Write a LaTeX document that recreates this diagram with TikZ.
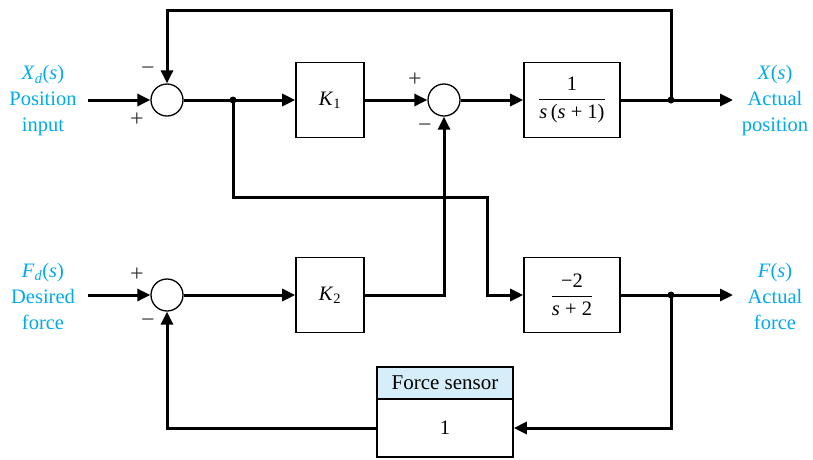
\documentclass[tikz,border=0pt]{standalone}
\usepackage{amsmath}
\usepackage{fontspec}
\setmainfont{Liberation Serif}
\usetikzlibrary{arrows.meta}
\definecolor{lblcyan}{RGB}{0,170,235}
\definecolor{hdrfill}{RGB}{214,238,250}
\newcommand{\vi}[1]{\textit{#1}}
\begin{document}
\begin{tikzpicture}[x=1pt,y=-1pt,
  font=\fontsize{20.5}{26}\selectfont,
  sig/.style={line width=3pt,-{Triangle[length=13pt,width=12pt]}},
  sumj/.style={circle,draw,line width=1.3pt,minimum size=32pt,inner sep=0pt},
  blk/.style={draw,line width=1.6pt,rectangle,inner sep=0pt},
  dotj/.style={circle,fill,inner sep=0pt,minimum size=7pt},
  lbl/.style={text=lblcyan,align=center},
  sgn/.style={font=\fontsize{24}{26}\selectfont,text=black!80}
]
\useasboundingbox (0,0) rectangle (813,459);
% summing junctions
\node[sumj] (s1) at (167,100) {};
\node[sumj] (s2) at (444,100) {};
\node[sumj] (s3) at (167,295) {};
% blocks
\node[blk,minimum width=68pt,minimum height=75pt] (k1) at (330,100) {\vi{K}\textsubscript{1}};
\node[blk,minimum width=96pt,minimum height=75pt] (g1) at (572,100) {$\dfrac{\text{1}}{\text{\vi{s}\,(\vi{s} + 1)}}$};
\node[blk,minimum width=68pt,minimum height=75pt] (k2) at (330,295) {\vi{K}\textsubscript{2}};
\node[blk,minimum width=96pt,minimum height=75pt] (g2) at (572,295) {$\dfrac{\text{−2}}{\text{\vi{s} + 2}}$};
\node[blk,fill=hdrfill,minimum width=136pt,minimum height=32pt,font=\fontsize{21}{24}\selectfont] (fsh) at (445,383) {Force sensor};
\node[blk,minimum width=136pt,minimum height=58pt] (fs) at (445,428) {1};
% junction points
\node[dotj] (b1) at (233,100) {};
\node[dotj] (j1) at (671,100) {};
\node[dotj] (j2) at (671,295) {};
\coordinate (in1) at (88,100);
\coordinate (in3) at (88,295);
\coordinate (out1) at (733,100);
\coordinate (out2) at (733,295);
\coordinate (c2) at (487,197);
% labels
\node[lbl] (lx) at (43,101) {\vi{X}\textsubscript{\vi{d}}(\vi{s})\\Position\\input};
\node[lbl] (lf) at (43,296) {\vi{F}\textsubscript{\vi{d}}(\vi{s})\\Desired\\force};
\node[lbl] (rx) at (775,101) {\vi{X}(\vi{s})\\Actual\\position};
\node[lbl] (rf) at (775,296) {\vi{F}(\vi{s})\\Actual\\force};
% signs
\node[sgn] (m1) at (148,71) {−};
\node[sgn] (p1) at (137,120) {+};
\node[sgn] (p2) at (415,80) {+};
\node[sgn] (m2) at (425,128) {−};
\node[sgn] (p3) at (137,275) {+};
\node[sgn] (m3) at (148,323) {−};
% connectors
\draw[sig] (in1) -- (s1.west);
\draw[sig] (s1.east) -- (k1.west);
\draw[sig] (k1.east) -- (s2.west);
\draw[sig] (s2.east) -- (g1.west);
\draw[sig] (g1.east) -- (out1);
\draw[sig] (j1.center) -- ++(0,-90) -| (s1.north);
\draw[sig] (b1.center) |- (c2) |- (g2.west);
\draw[sig] (in3) -- (s3.west);
\draw[sig] (s3.east) -- (k2.west);
\draw[sig] (k2.east) -| (s2.south);
\draw[sig] (g2.east) -- (out2);
\draw[sig] (j2.center) |- (fs.east);
\draw[sig] (fs.west) -| (s3.south);
\end{tikzpicture}
\end{document}
